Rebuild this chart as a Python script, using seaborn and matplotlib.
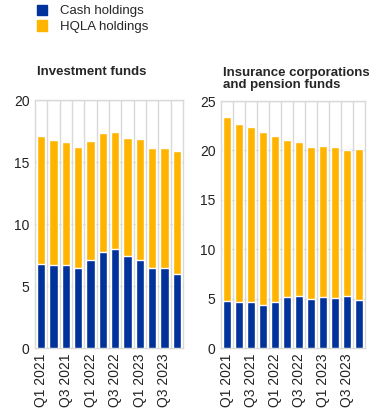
import matplotlib
matplotlib.use("Agg")
import matplotlib.pyplot as plt
import matplotlib.patches as mpatches
import seaborn as sns
import pandas as pd

# quarters shown on both panels
quarters = ["Q1 2021", "Q2 2021", "Q3 2021", "Q4 2021",
            "Q1 2022", "Q2 2022", "Q3 2022", "Q4 2022",
            "Q1 2023", "Q2 2023", "Q3 2023", "Q4 2023"]

# investment funds (% of total assets)
if_cash = [6.8, 6.7, 6.7, 6.45, 7.1, 7.75, 8.0, 7.4, 7.1, 6.45, 6.45, 6.0]
if_total = [17.1, 16.8, 16.6, 16.2, 16.7, 17.35, 17.45, 16.95, 16.85, 16.15, 16.15, 15.9]

# insurance corporations and pension funds
icpf_cash = [4.75, 4.65, 4.65, 4.35, 4.65, 5.15, 5.25, 4.95, 5.15, 5.05, 5.25, 4.85]
icpf_total = [23.4, 22.7, 22.4, 21.9, 21.5, 21.1, 20.8, 20.3, 20.45, 20.3, 20.05, 20.15]

blue = "#003299"
yellow = "#FFB400"
grid_col = "#d9d9d9"

sns.set_theme(style="white")
plt.rcParams['font.family'] = ['Liberation Sans', 'DejaVu Sans']
plt.rcParams['font.size'] = 9.5

fig = plt.figure(figsize=(3.72, 4.09), dpi=100)
ax1 = fig.add_axes([35 / 372, 1 - 348 / 409, 148 / 372, 248 / 409])
ax2 = fig.add_axes([221 / 372, 1 - 348 / 409, 144 / 372, 247 / 409])


def draw_panel(ax, cash, total, ymax):
    df = pd.DataFrame({"quarter": quarters, "cash": cash, "total": total})
    sns.barplot(data=df, x="quarter", y="total", color=yellow, width=0.68,
                saturation=1, ax=ax, zorder=3)
    sns.barplot(data=df, x="quarter", y="cash", color=blue, width=0.68,
                saturation=1, ax=ax, zorder=4)
    ax.set_ylim(0, ymax)
    ax.set_xlim(-0.5, len(quarters) - 0.5)
    ax.set_yticks(range(0, ymax + 1, 5))
    ax.set_xticks(range(0, len(quarters), 2))
    ax.set_xticklabels(quarters[::2], rotation=90)
    ax.set_xticks([i + 0.5 for i in range(len(quarters) - 1)], minor=True)
    ax.grid(axis="y", color=grid_col, linewidth=1, zorder=0)
    ax.grid(axis="x", which="minor", color=grid_col, linewidth=1, zorder=0)
    ax.set_xlabel("")
    ax.set_ylabel("")
    ax.tick_params(length=0, labelsize=10, colors="#222222", pad=4)
    for s in ax.spines.values():
        s.set_color(grid_col)
        s.set_linewidth(1)


draw_panel(ax1, if_cash, if_total, 20)
draw_panel(ax2, icpf_cash, icpf_total, 25)

fig.text(37 / 372, 1 - 72 / 409, "Investment funds", fontweight="bold",
         fontsize=9.5, va="center", ha="left")
fig.text(223 / 372, 1 - 79 / 409, "Insurance corporations\nand pension funds",
         fontweight="bold", fontsize=9.5, va="center", ha="left", linespacing=1.0)

handles = [mpatches.Patch(color=blue, label="Cash holdings"),
           mpatches.Patch(color=yellow, label="HQLA holdings")]
fig.legend(handles=handles, loc="upper left", bbox_to_anchor=(25 / 372, 1.018),
           frameon=False, fontsize=9.5, handlelength=0.8, handleheight=0.8,
           handletextpad=0.95, labelspacing=0.25)

fig.savefig("out.png", dpi=100)
